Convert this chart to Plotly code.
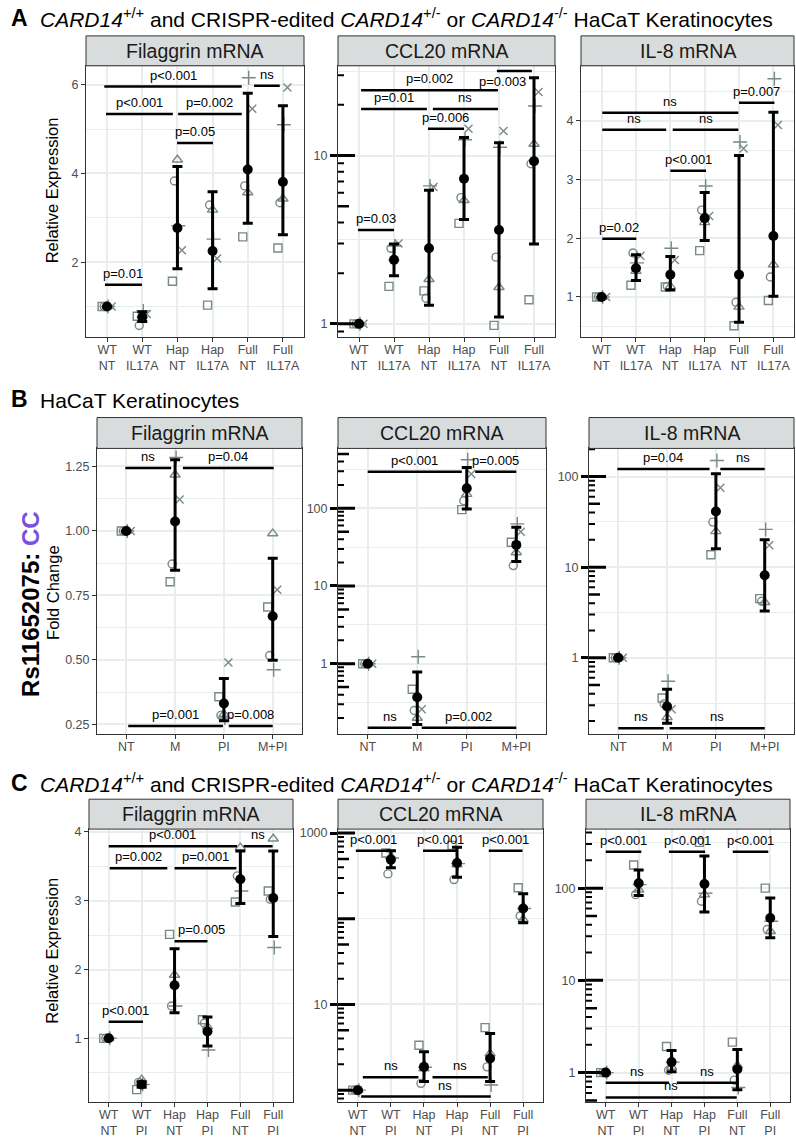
import math
import plotly.graph_objects as go

# ---------------- data ----------------
A_CATS = ["WT<br>NT", "WT<br>IL17A", "Hap<br>NT", "Hap<br>IL17A", "Full<br>NT", "Full<br>IL17A"]
B_CATS = ["NT", "M", "PI", "M+PI"]
C_CATS = ["WT<br>NT", "WT<br>PI", "Hap<br>NT", "Hap<br>PI", "Full<br>NT", "Full<br>PI"]

REPS_AB = ["square", "circle", "triangle", "plus", "x"]
REPS_C = ["square", "circle", "triangle", "plus"]

# replicate values per category, order = REPS_AB / REPS_C
A_FLG_REPS = [[1.0, 1.0, 1.0, 1.0, 1.0], [0.78, 0.57, 0.80, 0.90, 0.83], [1.57, 3.83, 4.31, 2.82, 2.27],
              [1.03, 3.29, 3.18, 2.52, 2.08], [2.57, 3.72, 3.57, 6.16, 5.46], [2.32, 3.34, 3.43, 5.10, 5.94]]
A_FLG_MEAN = [1.0, 0.76, 2.77, 2.25, 4.09, 3.81]
A_FLG_LO = [1.0, 0.66, 1.85, 1.40, 2.88, 2.62]
A_FLG_HI = [1.0, 0.88, 4.16, 3.59, 5.81, 5.53]
A_FLG_COMPS = [(-0.08, 3.83, 5.96, "p<0.001"), (4.18, 4.91, 5.98, "ns"), (-0.03, 1.87, 5.34, "p<0.001"),
               (2.02, 3.83, 5.34, "p=0.002"), (1.99, 3.01, 4.69, "p=0.05"), (-0.06, 0.99, 1.49, "p=0.01")]

A_CCL_REPS = [[1.0, 1.0, 1.0, 1.0, 1.0], [1.67, 2.81, 2.45, 2.90, 3.00], [1.57, 1.42, 1.84, 6.6, 6.5],
              [3.95, 5.62, 5.42, 12.4, 14.4], [0.98, 2.49, 1.65, 11.2, 14.0], [1.39, 8.93, 11.7, 19.7, 23.8]]
A_CCL_MEAN = [1.0, 2.40, 2.81, 7.28, 3.61, 9.26]
A_CCL_LO = [1.0, 1.93, 1.29, 4.17, 1.10, 2.98]
A_CCL_HI = [1.0, 2.98, 6.21, 12.8, 11.9, 29.0]
A_CCL_COMPS = [(0.06, 3.97, 24.4, "p=0.002"), (3.94, 4.94, 31.8, "p=0.003", (4.11, 27.7, "middle")),
               (0.06, 1.94, 18.9, "p=0.01"), (2.11, 3.97, 18.9, "ns"), (1.97, 3.0, 14.4, "p=0.006"),
               (-0.03, 1.0, 3.61, "p=0.03")]

A_IL8_REPS = [[1.0, 1.0, 1.0, 1.0, 1.0], [1.20, 1.75, 1.44, 1.58, 1.70], [1.17, 1.18, 1.18, 1.83, 1.63],
              [1.79, 2.48, 2.27, 2.89, 2.38], [0.51, 0.91, 0.83, 3.64, 3.53], [0.94, 1.34, 1.55, 4.72, 3.93]]
A_IL8_MEAN = [1.0, 1.49, 1.38, 2.34, 1.38, 2.04]
A_IL8_LO = [1.0, 1.28, 1.12, 1.96, 0.57, 1.01]
A_IL8_HI = [1.0, 1.72, 1.69, 2.78, 3.41, 4.15]
A_IL8_COMPS = [(0.02, 3.98, 4.14, "ns"), (0.02, 1.88, 3.85, "ns"), (2.07, 3.98, 3.85, "ns"),
               (4.0, 5.03, 4.31, "p=0.007"), (2.0, 3.04, 3.15, "p<0.001"), (0.02, 1.01, 1.99, "p=0.02")]

B_FLG_REPS = [[1.0, 1.0, 1.0, 1.0, 1.0], [0.803, 0.872, 1.218, 1.285, 1.122],
              [0.357, 0.285, 0.29, 0.275, 0.49], [0.705, 0.517, 0.99, 0.462, 0.772]]
B_FLG_MEAN = [1.0, 1.037, 0.331, 0.669]
B_FLG_LO = [1.0, 0.848, 0.264, 0.499]
B_FLG_HI = [1.0, 1.276, 0.428, 0.894]
B_FLG_COMPS = [(-0.02, 0.92, 1.244, "ns"), (1.16, 3.02, 1.244, "p=0.04"),
               (0.04, 1.98, 0.244, "p=0.001"), (2.1, 3.0, 0.244, "p=0.008")]

B_CCL_REPS = [[1.0, 1.0, 1.0, 1.0, 1.0], [0.47, 0.25, 0.20, 1.23, 0.26],
              [96, 125, 152, 422, 276], [36.5, 18.3, 27, 63, 50]]
B_CCL_MEAN = [1.0, 0.37, 181, 33.8]
B_CCL_LO = [1.0, 0.165, 98, 20.6]
B_CCL_HI = [1.0, 0.78, 336, 57]
B_CCL_COMPS = [(0.0, 1.9, 296, "p<0.001"), (2.17, 3.0, 296, "p=0.005"),
               (0.0, 0.89, 0.150, "ns"), (1.09, 3.0, 0.150, "p=0.002")]

B_IL8_REPS = [[1.0, 1.0, 1.0, 1.0, 1.0], [0.36, 0.31, 0.22, 0.55, 0.27],
              [13.7, 31.4, 24.8, 150, 75], [4.5, 4.2, 4.1, 26.1, 17.4]]
B_IL8_MEAN = [1.0, 0.29, 41.2, 8.13]
B_IL8_LO = [1.0, 0.19, 16.0, 3.29]
B_IL8_HI = [1.0, 0.45, 107, 20.1]
B_IL8_COMPS = [(-0.02, 1.87, 121, "p=0.04"), (2.09, 3.0, 121, "ns"),
               (0.0, 0.93, 0.167, "ns"), (1.05, 3.0, 0.167, "ns")]

C_FLG_REPS = [[1.0, 1.0, 1.0, 1.0], [0.255, 0.36, 0.40, 0.33], [2.51, 1.47, 1.92, 1.47],
              [1.27, 1.22, 1.17, 0.83], [2.98, 3.36, 3.77, 3.14], [3.14, 3.02, 3.90, 2.32]]
C_FLG_MEAN = [1.0, 0.33, 1.77, 1.10, 3.31, 3.04]
C_FLG_LO = [1.0, 0.29, 1.37, 0.89, 2.96, 2.48]
C_FLG_HI = [1.0, 0.37, 2.30, 1.31, 3.72, 3.72]
C_FLG_COMPS = [(0.0, 3.9, 3.79, "p<0.001"), (4.1, 4.98, 3.79, "ns"), (0.03, 1.78, 3.47, "p=0.002"),
               (2.0, 3.88, 3.47, "p=0.001"), (2.0, 3.0, 2.41, "p=0.005", (2.83, 2.41, "bottom")),
               (0.0, 1.04, 1.24, "p<0.001")]

C_CCL_REPS = [[1.0, 1.0, 1.0, 1.0], [586, 334, 536, 512], [3.34, 1.2, 1.79, 1.85],
              [719, 287, 429, 440], [5.36, 1.87, 2.67, 1.15], [230, 108, 98.6, 132]]
C_CCL_MEAN = [1.0, 490, 1.87, 449, 2.34, 132]
C_CCL_LO = [1.0, 393, 1.26, 306, 1.26, 90]
C_CCL_HI = [1.0, 624, 2.8, 682, 4.57, 196]
C_CCL_COMPS = [(-0.06, 1.0, 624, "p<0.001"), (1.97, 3.0, 624, "p<0.001"), (3.96, 4.98, 624, "p<0.001"),
               (0.15, 1.83, 1.41, "ns"), (2.26, 3.93, 1.41, "ns"), (0.1, 4.02, 0.84, "ns", (2.65, 0.84, "bottom"))]

C_IL8_REPS = [[1.0, 1.0, 1.0, 1.0], [178, 85, 96, 109], [1.92, 1.06, 1.15, 1.30],
              [313, 72, 85, 88], [2.14, 0.83, 1.2, 0.69], [100, 35.6, 34.1, 43.8]]
C_IL8_MEAN = [1.0, 113, 1.30, 111, 1.09, 47.5]
C_IL8_LO = [1.0, 83, 1.02, 55, 0.65, 28.9]
C_IL8_HI = [1.0, 157, 1.74, 223, 1.78, 78]
C_IL8_COMPS = [(0.0, 1.08, 248, "p<0.001"), (1.92, 3.02, 248, "p<0.001"), (3.86, 4.94, 248, "p<0.001"),
               (0.0, 1.92, 0.774, "ns"), (2.16, 3.98, 0.774, "ns"), (0.0, 3.98, 0.538, "ns")]

# ---------------- styling / layout ----------------
W, H = 796, 1140
FONT = "Liberation Sans, Arial, Helvetica, sans-serif"
GRAY = "#7A8888"
GRID = "#E8EDED"
TICKC = "#4D4D4D"
BORDER = "#333333"
PURPLE = "#7B4FE0"

SHAPE_STYLE = {
    "square": ("square-open", 8, -5),
    "circle": ("circle-open", 8, -3),
    "triangle": ("triangle-up-open", 9, 0),
    "plus": ("cross-thin-open", 10, 1),
    "x": ("x-thin-open", 8, 4.5),
}

PANELS = [
    dict(box=(86, 62, 304, 334), strip=32, title="Filaggrin mRNA", cats=A_CATS, shapes=REPS_AB,
         reps=A_FLG_REPS, mean=A_FLG_MEAN, lo=A_FLG_LO, hi=A_FLG_HI, comps=A_FLG_COMPS,
         log=False, yrange=(0.315, 6.43), ytick=[2, 4, 6], ytext=["2", "4", "6"], minor=[1, 3, 5]),
    dict(box=(338, 62, 555, 334), strip=32, title="CCL20 mRNA", cats=A_CATS, shapes=REPS_AB,
         reps=A_CCL_REPS, mean=A_CCL_MEAN, lo=A_CCL_LO, hi=A_CCL_HI, comps=A_CCL_COMPS,
         log=True, yrange=(-0.077, 1.533), ytick=[1, 10], ytext=["1", "10"], minor=[3.1623, 31.623]),
    dict(box=(581, 62, 794, 334), strip=32, title="IL-8 mRNA", cats=A_CATS, shapes=REPS_AB,
         reps=A_IL8_REPS, mean=A_IL8_MEAN, lo=A_IL8_LO, hi=A_IL8_HI, comps=A_IL8_COMPS,
         log=False, yrange=(0.32, 4.94), ytick=[1, 2, 3, 4], ytext=["1", "2", "3", "4"],
         minor=[0.5, 1.5, 2.5, 3.5, 4.5]),
    dict(box=(97, 446, 302, 733), strip=415, title="Filaggrin mRNA", cats=B_CATS, shapes=REPS_AB,
         reps=B_FLG_REPS, mean=B_FLG_MEAN, lo=B_FLG_LO, hi=B_FLG_HI, comps=B_FLG_COMPS,
         log=False, yrange=(0.211, 1.32), ytick=[0.25, 0.5, 0.75, 1.0, 1.25],
         ytext=["0.25", "0.50", "0.75", "1.00", "1.25"], minor=[0.375, 0.625, 0.875, 1.125]),
    dict(box=(338, 446, 546, 733), strip=415, title="CCL20 mRNA", cats=B_CATS, shapes=REPS_AB,
         reps=B_CCL_REPS, mean=B_CCL_MEAN, lo=B_CCL_LO, hi=B_CCL_HI, comps=B_CCL_COMPS,
         log=True, yrange=(-0.91, 2.77), ytick=[1, 10, 100], ytext=["1", "10", "100"],
         minor=[0.31623, 3.1623, 31.623, 316.23]),
    dict(box=(589, 446, 794, 733), strip=415, title="IL-8 mRNA", cats=B_CATS, shapes=REPS_AB,
         reps=B_IL8_REPS, mean=B_IL8_MEAN, lo=B_IL8_LO, hi=B_IL8_HI, comps=B_IL8_COMPS,
         log=True, yrange=(-0.846, 2.31), ytick=[1, 10, 100], ytext=["1", "10", "100"],
         minor=[0.31623, 3.1623, 31.623]),
    dict(box=(89, 828, 293, 1102), strip=798, title="Filaggrin mRNA", cats=C_CATS, shapes=REPS_C,
         reps=C_FLG_REPS, mean=C_FLG_MEAN, lo=C_FLG_LO, hi=C_FLG_HI, comps=C_FLG_COMPS,
         log=False, yrange=(0.073, 4.04), ytick=[1, 2, 3, 4], ytext=["1", "2", "3", "4"],
         minor=[0.5, 1.5, 2.5, 3.5]),
    dict(box=(338, 828, 543, 1102), strip=798, title="CCL20 mRNA", cats=C_CATS, shapes=REPS_C,
         reps=C_CCL_REPS, mean=C_CCL_MEAN, lo=C_CCL_LO, hi=C_CCL_HI, comps=C_CCL_COMPS,
         log=True, yrange=(-0.14, 3.047), ytick=[10, 1000], ytext=["10", "1000"], minor=[100]),
    dict(box=(586, 828, 790, 1102), strip=798, title="IL-8 mRNA", cats=C_CATS, shapes=REPS_C,
         reps=C_IL8_REPS, mean=C_IL8_MEAN, lo=C_IL8_LO, hi=C_IL8_HI, comps=C_IL8_COMPS,
         log=True, yrange=(-0.32, 2.64), ytick=[1, 10, 100], ytext=["1", "10", "100"],
         minor=[3.1623, 31.623, 316.23]),
]

fig = go.Figure()
layout_axes = {}
annotations = []
shapes = []


def yconv(v, is_log):
    return math.log10(v) if is_log else v


for i, P in enumerate(PANELS, start=1):
    xa = "x" if i == 1 else f"x{i}"
    ya = "y" if i == 1 else f"y{i}"
    xkey = "xaxis" if i == 1 else f"xaxis{i}"
    ykey = "yaxis" if i == 1 else f"yaxis{i}"
    x0, y0, x1, y1 = P["box"]
    n = len(P["cats"])
    spacing = (x1 - x0) / (n + 0.2)
    is_log = P["log"]

    # replicate points
    for k, shp in enumerate(P["shapes"]):
        sym, size, offpx = SHAPE_STYLE[shp]
        fig.add_trace(go.Scatter(
            x=[c + offpx / spacing for c in range(n)],
            y=[P["reps"][c][k] for c in range(n)],
            xaxis=xa, yaxis=ya, mode="markers", cliponaxis=False, hoverinfo="skip",
            marker=dict(symbol=sym, size=size, color=GRAY, line=dict(color=GRAY, width=1.4)),
        ))

    # mean + error bars
    fig.add_trace(go.Scatter(
        x=list(range(n)), y=P["mean"], xaxis=xa, yaxis=ya, mode="markers", cliponaxis=False,
        hoverinfo="skip", marker=dict(color="black", size=10),
        error_y=dict(type="data", symmetric=False,
                     array=[h - m for h, m in zip(P["hi"], P["mean"])],
                     arrayminus=[m - l for m, l in zip(P["mean"], P["lo"])],
                     color="black", thickness=3, width=5),
    ))

    # significance bars
    sx, sy = [], []
    for c in P["comps"]:
        sx += [c[0], c[1], None]
        sy += [c[2], c[2], None]
        if len(c) > 4:
            lx, ly, anch = c[4]
        else:
            lx, ly, anch = (c[0] + c[1]) / 2, c[2], "bottom"
        annotations.append(dict(
            x=lx, y=yconv(ly, is_log), xref=xa, yref=ya, text=c[3], showarrow=False,
            xanchor="center", yanchor=anch, yshift=2 if anch == "bottom" else 0,
            font=dict(family=FONT, size=13, color="black")))
    fig.add_trace(go.Scatter(x=sx, y=sy, xaxis=xa, yaxis=ya, mode="lines", hoverinfo="skip",
                             line=dict(color="black", width=2.5)))

    # log ticks (annotation_logticks style)
    if is_log:
        lo_e, hi_e = P["yrange"]
        segs = {17: ([], []), 11: ([], []), 6: ([], [])}
        for d in range(math.floor(lo_e) - 1, math.ceil(hi_e) + 1):
            for m in range(1, 10):
                v = m * 10 ** d
                lv = math.log10(v)
                if lo_e <= lv <= hi_e:
                    L = 17 if m == 1 else (11 if m == 5 else 6)
                    segs[L][0].extend([-0.6, -0.6 + L / spacing, None])
                    segs[L][1].extend([v, v, None])
        widths = {17: 3, 11: 2.5, 6: 2}
        for L, (tx, ty) in segs.items():
            fig.add_trace(go.Scatter(x=tx, y=ty, xaxis=xa, yaxis=ya, mode="lines", hoverinfo="skip",
                                     line=dict(color="black", width=widths[L])))

    layout_axes[xkey] = dict(
        domain=[x0 / W, x1 / W], anchor=ya, range=[-0.6, n - 0.4], tickmode="array",
        tickvals=list(range(n)), ticktext=P["cats"], showgrid=True, gridcolor=GRID, gridwidth=1.5,
        zeroline=False, showline=True, mirror=True, linecolor=BORDER, linewidth=1,
        ticks="outside", ticklen=4, tickwidth=1, tickcolor=BORDER, ticklabelstandoff=-3,
        tickfont=dict(family=FONT, size=12.5, color=TICKC), fixedrange=True)
    layout_axes[ykey] = dict(
        domain=[1 - y1 / H, 1 - y0 / H], anchor=xa, type="log" if is_log else "linear",
        range=list(P["yrange"]), tickmode="array", tickvals=P["ytick"], ticktext=P["ytext"],
        showgrid=True, gridcolor=GRID, gridwidth=1.5,
        minor=dict(tickmode="array", tickvals=P["minor"], showgrid=True, gridcolor=GRID,
                   gridwidth=0.8, ticks=""),
        zeroline=False, showline=True, mirror=True, linecolor=BORDER, linewidth=1,
        ticks="outside", ticklen=7 if is_log else 4, tickwidth=3 if is_log else 1,
        tickcolor="black" if is_log else BORDER,
        tickfont=dict(family=FONT, size=12.5, color=TICKC), fixedrange=True)

    # strip
    shapes.append(dict(type="rect", xref="paper", yref="paper", x0=x0 / W, x1=x1 / W,
                       y0=1 - y0 / H, y1=1 - P["strip"] / H, fillcolor="#D9DCDC",
                       line=dict(color=BORDER, width=1), layer="above"))
    annotations.append(dict(x=(x0 + x1) / 2 / W, y=1 - (P["strip"] + y0) / 2 / H, xref="paper",
                            yref="paper", text=P["title"], showarrow=False, xanchor="center",
                            yanchor="middle", font=dict(family=FONT, size=19.5, color="#1A1A1A")))

# panel titles and axis titles
TITLE_AC = ("<i>CARD14</i><sup>+/+</sup> and CRISPR-edited <i>CARD14</i><sup>+/-</sup> or "
            "<i>CARD14</i><sup>-/-</sup> HaCaT Keratinocytes")
for letter, text, base in [("A", TITLE_AC, 25), ("B", "HaCaT Keratinocytes", 407), ("C", TITLE_AC, 793)]:
    annotations.append(dict(x=9 / W, y=1 - (base + 4) / H, xref="paper", yref="paper",
                            text=f"<b>{letter}</b>", showarrow=False, xanchor="left", yanchor="bottom",
                            font=dict(family=FONT, size=23, color="black")))
    annotations.append(dict(x=38 / W, y=1 - (base + 4) / H, xref="paper", yref="paper",
                            text=text, showarrow=False, xanchor="left", yanchor="bottom",
                            font=dict(family=FONT, size=21, color="black")))

for text, xc, yc, size in [("Relative Expression", 52, 187, 16.5), ("Fold Change", 53, 591, 16.5),
                           ("Relative Expression", 52, 950, 16.5)]:
    annotations.append(dict(x=xc / W, y=1 - yc / H, xref="paper", yref="paper", text=text,
                            showarrow=False, textangle=-90, xanchor="center", yanchor="middle",
                            font=dict(family=FONT, size=size, color="black")))
annotations.append(dict(x=31 / W, y=1 - 603 / H, xref="paper", yref="paper",
                        text=f"<b>Rs11652075: <span style='color:{PURPLE}'>CC</span></b>",
                        showarrow=False, textangle=-90, xanchor="center", yanchor="middle",
                        font=dict(family=FONT, size=24, color="black")))

fig.update_layout(
    width=W, height=H, autosize=False, margin=dict(l=0, r=0, t=0, b=0),
    paper_bgcolor="white", plot_bgcolor="white", showlegend=False,
    annotations=annotations, shapes=shapes, font=dict(family=FONT), **layout_axes)

fig.write_html("out.html", config={"displayModeBar": False},
               post_script="document.body.style.margin='0px';document.body.style.padding='0px';")
